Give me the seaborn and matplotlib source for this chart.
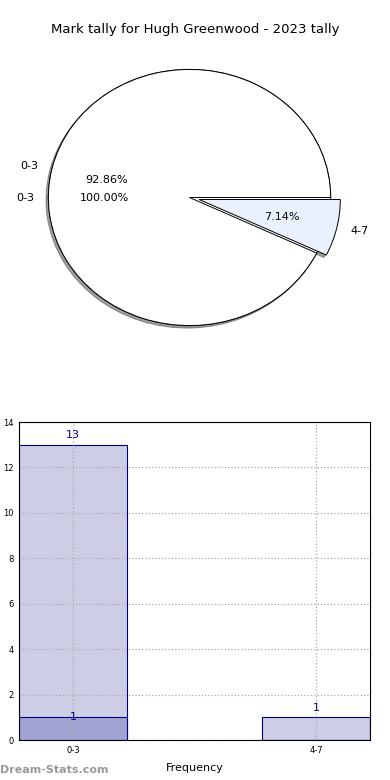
import matplotlib
matplotlib.use("Agg")
import matplotlib.pyplot as plt
import seaborn as sns
import pandas as pd

# data
title = "Mark tally for Hugh Greenwood - 2023 tally"
pie_labels = ["0-3", "4-7"]
pie_values = [13, 1]
full_labels = ["0-3"]
full_values = [1]
bar_cats = ["0-3", "4-7"]
bar_totals = [13, 1]
bar_inner = [1, 0]

sns.set_style("white")
plt.rcParams['font.family'] = ['DejaVu Sans']
plt.rcParams['text.color'] = 'black'
plt.rcParams['xtick.color'] = 'black'
plt.rcParams['ytick.color'] = 'black'
plt.rcParams['axes.labelcolor'] = 'black'

fig = plt.figure(figsize=(3.9, 7.8), dpi=100)
W, H = 390, 780

# pie (elliptical, like the original)
ax1 = fig.add_axes([6 / W, 1 - 364 / H, 367 / W, 333 / H])
ax1.pie(full_values, labels=full_labels, autopct='%1.2f%%', colors=["white"],
        wedgeprops=dict(edgecolor="black", linewidth=0.7),
        textprops=dict(fontsize=8))
ax1.pie(pie_values, labels=pie_labels, autopct='%1.2f%%', colors=["white", "#eaf0fd"],
        explode=[0, 0.07], shadow={'ox': -0.012, 'oy': -0.014, 'shade': 0.75},
        wedgeprops=dict(edgecolor="black", linewidth=0.7),
        textprops=dict(fontsize=8))
ax1.set_aspect('auto')
ax1.set_xlim(-1.3, 1.3)
ax1.set_ylim(-1.3, 1.3)
ax1.axis('off')
fig.text(0.5, 1 - 30 / H, title, ha='center', va='center', fontsize=9.5)

# bars
ax2 = fig.add_axes([19 / W, 1 - 740 / H, 351 / W, 318 / H])
df = pd.DataFrame({"cat": bar_cats, "total": bar_totals, "inner": bar_inner})
sns.barplot(data=df, x="cat", y="total", color="#cdcde6", edgecolor="#000080",
            linewidth=0.8, width=0.444, saturation=1, ax=ax2)
sns.barplot(data=df, x="cat", y="inner", color="#a3a3d3", edgecolor="#000080",
            linewidth=0.8, width=0.444, saturation=1, ax=ax2)
for i, v in enumerate(bar_totals):
    if v > bar_inner[i]:
        ax2.text(i, v + 0.2, str(v), ha='center', va='bottom', color="#000080", fontsize=8)
for i, v in enumerate(bar_inner):
    if v > 0:
        ax2.text(i, v, str(v), ha='center', va='center', color="#000080", fontsize=8)

ax2.set_xlim(-0.222, 1.222)
ax2.set_ylim(0, 14)
ax2.set_yticks(range(0, 15, 2))
ax2.tick_params(labelsize=6, length=2, pad=2)
ax2.grid(True, linestyle=':', color='#aaaaaa', linewidth=0.9)
ax2.set_axisbelow('line')
for s in ax2.spines.values():
    s.set_color('black')
    s.set_linewidth(0.8)
    s.set_zorder(5)
ax2.set_xlabel("Frequency", fontsize=8, labelpad=6)
ax2.set_ylabel("Occurrences", fontsize=8)
ax2.yaxis.set_label_coords(-0.046, 0.5)

fig.text(0, 1 - 770 / H, "Dream-Stats.com", color="#999999", fontsize=8,
         fontweight='bold', ha='left', va='center')

plt.savefig("out.png", dpi=100)
